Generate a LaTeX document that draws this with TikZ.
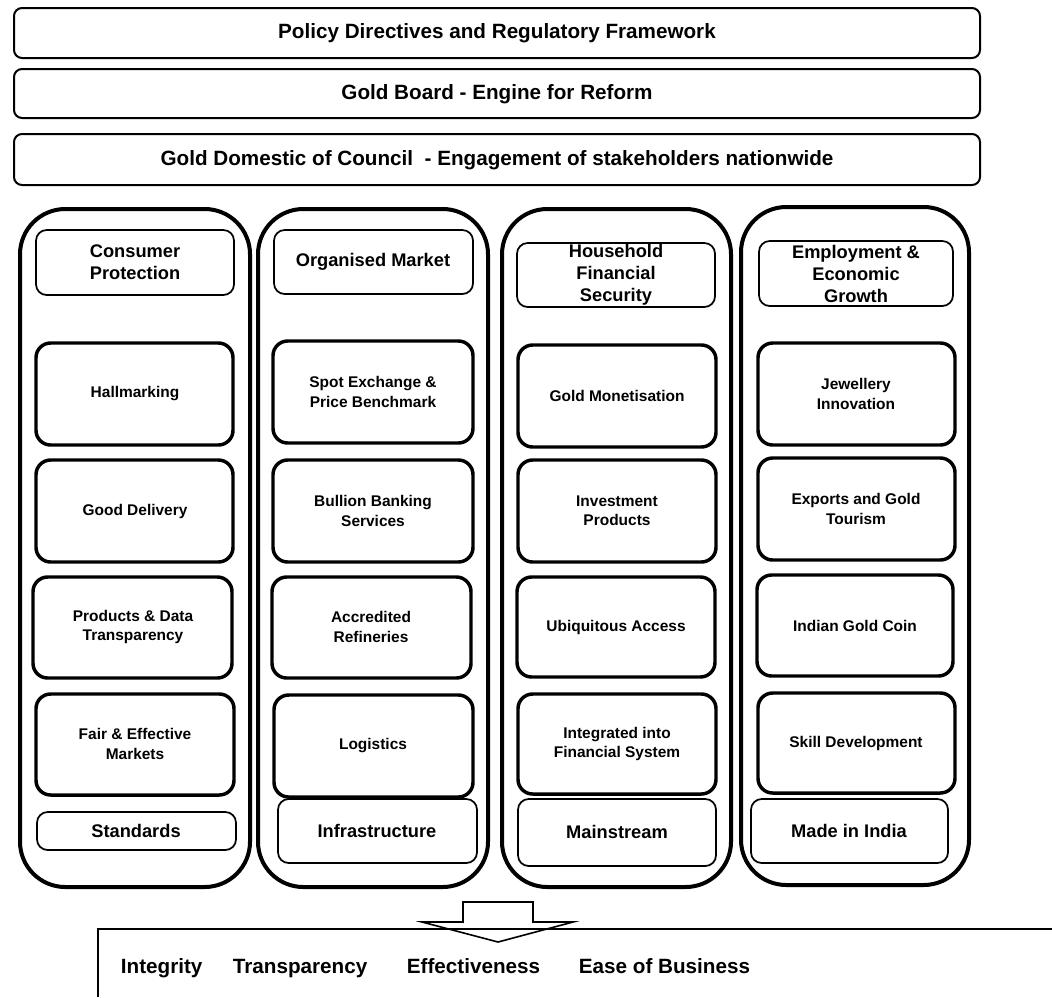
\documentclass[tikz,border=0pt]{standalone}
\usepackage{fontspec}
\setmainfont{Liberation Sans}

\tikzset{every picture/.style={line width=0.75pt}}
\tikzset{
  barbox/.style={line width=1.5pt, rounded corners=6pt},
  colbox/.style={line width=3pt, rounded corners=34pt},
  itembox/.style={line width=2.6pt, rounded corners=11pt},
  headbox/.style={line width=1.3pt, rounded corners=8pt},
  bartext/.style={font=\fontsize{15.5}{18}\selectfont\bfseries},
  headtext/.style={align=center, font=\fontsize{13.7}{16.5}\selectfont\bfseries},
  itemtext/.style={align=center, font=\fontsize{11.6}{14.5}\selectfont\bfseries},
}

\begin{document}
\begin{tikzpicture}[x=0.75pt,y=0.75pt,yscale=-1,xscale=1]
	\useasboundingbox (0,0) rectangle (1052,997);

	%Rounded Rect: top bars
	\draw [barbox] (14,8) rectangle (980,58) ;
	\draw [barbox] (14,69) rectangle (980,118) ;
	\draw [barbox] (14,134) rectangle (980,185) ;

	%Rounded Rect: columns
	\draw [colbox] (20,209) rectangle (250,887) ;
	\draw [colbox] (258,209) rectangle (488,887) ;
	\draw [colbox] (502,209) rectangle (731,887) ;
	\draw [colbox] (741,207) rectangle (969,885) ;

	%Rounded Rect: column 1
	\draw [headbox] (36,230) rectangle (234,295) ;
	\draw [itembox] (36,343) rectangle (233,445) ;
	\draw [itembox] (36,460) rectangle (233,562) ;
	\draw [itembox] (33,577) rectangle (232,678) ;
	\draw [itembox] (36,694) rectangle (234,795) ;
	\draw [headbox] (37,812) rectangle (236,850) ;

	%Rounded Rect: column 2
	\draw [headbox] (274,230) rectangle (473,294) ;
	\draw [itembox] (273,341) rectangle (473,443) ;
	\draw [itembox] (273,460) rectangle (473,562) ;
	\draw [itembox] (272,577) rectangle (471,678) ;
	\draw [itembox] (274,695) rectangle (473,797) ;
	\draw [headbox] (278,799) rectangle (477,863) ;

	%Rounded Rect: column 3
	\draw [headbox] (517,243) rectangle (715,307) ;
	\draw [itembox] (518,345) rectangle (716,447) ;
	\draw [itembox] (518,460) rectangle (716,562) ;
	\draw [itembox] (517,577) rectangle (715,677) ;
	\draw [itembox] (518,694) rectangle (716,794) ;
	\draw [headbox] (518,799) rectangle (716,866) ;

	%Rounded Rect: column 4
	\draw [headbox] (759,241) rectangle (953,306) ;
	\draw [itembox] (758,343) rectangle (955,445) ;
	\draw [itembox] (758,458) rectangle (955,560) ;
	\draw [itembox] (757,575) rectangle (953,676) ;
	\draw [itembox] (758,693) rectangle (955,793) ;
	\draw [headbox] (751,799) rectangle (948,863) ;

	%Shape: Down Arrow
	\draw [line width=1.2pt] (463,902) -- (533,902) -- (533,922) -- (573,922) -- (498,942) -- (422,922) -- (463,922) -- cycle ;
	%Shape: open box at the bottom
	\draw [line width=1.2pt] (1052,929) -- (98,929) -- (98,997) ;

	% Text Node
	\draw (497,33) node (policy) [bartext] {Policy Directives and Regulatory Framework};
	% Text Node
	\draw (497,94) node (goldboard) [bartext] {Gold Board - Engine for Reform};
	% Text Node
	\draw (497,160) node (council) [bartext] {Gold Domestic of Council\ \ - Engagement of stakeholders nationwide};

	% Text Node
	\draw (135,262) node (hdcons) [headtext] {Consumer\\Protection};
	% Text Node
	\draw (135,394) node (hallmark) [itemtext] {Hallmarking};
	% Text Node
	\draw (135,511) node (gooddel) [itemtext] {Good Delivery};
	% Text Node
	\draw (133,627) node (prodtrans) [itemtext] {Products \& Data\\Transparency};
	% Text Node
	\draw (135,744) node (fairmkt) [itemtext] {Fair \& Effective\\Markets};
	% Text Node
	\draw (136,831) node (standards) [headtext] {Standards};

	% Text Node
	\draw (373,262) node (hdorg) [headtext] {Organised Market};
	% Text Node
	\draw (373,392) node (spotex) [itemtext] {Spot Exchange \&\\Price Benchmark};
	% Text Node
	\draw (373,511) node (bullion) [itemtext] {Bullion Banking\\Services};
	% Text Node
	\draw (371,627) node (refineries) [itemtext] {Accredited\\Refineries};
	% Text Node
	\draw (373,746) node (logistics) [itemtext] {Logistics};
	% Text Node
	\draw (377,831) node (infra) [headtext] {Infrastructure};

	% Text Node
	\draw (616,275) node (hdhouse) [headtext] {Household\\Financial\\Security};
	% Text Node
	\draw (617,396) node (goldmon) [itemtext] {Gold Monetisation};
	% Text Node
	\draw (617,511) node (investprod) [itemtext] {Investment\\Products};
	% Text Node
	\draw (616,627) node (ubiqacc) [itemtext] {Ubiquitous Access};
	% Text Node
	\draw (617,744) node (integfin) [itemtext] {Integrated into\\Financial System};
	% Text Node
	\draw (617,832) node (mainstream) [headtext] {Mainstream};

	% Text Node
	\draw (856,274) node (hdemploy) [headtext] {Employment \&\\Economic\\Growth};
	% Text Node
	\draw (856,394) node (jewellery) [itemtext] {Jewellery\\Innovation};
	% Text Node
	\draw (856,509) node (exports) [itemtext] {Exports and Gold\\Tourism};
	% Text Node
	\draw (855,626) node (goldcoin) [itemtext] {Indian Gold Coin};
	% Text Node
	\draw (856,743) node (skilldev) [itemtext] {Skill Development};
	% Text Node
	\draw (849,831) node (madeindia) [headtext] {Made in India};

	% Text Node
	\draw (116,973) node (integrity) [bartext, anchor=base west] {Integrity};
	% Text Node
	\draw (228,973) node (transparency) [bartext, anchor=base west] {Transparency};
	% Text Node
	\draw (402,973) node (effectiveness) [bartext, anchor=base west] {Effectiveness};
	% Text Node
	\draw (574,973) node (easebiz) [bartext, anchor=base west] {Ease of Business};

\end{tikzpicture}
\end{document}
